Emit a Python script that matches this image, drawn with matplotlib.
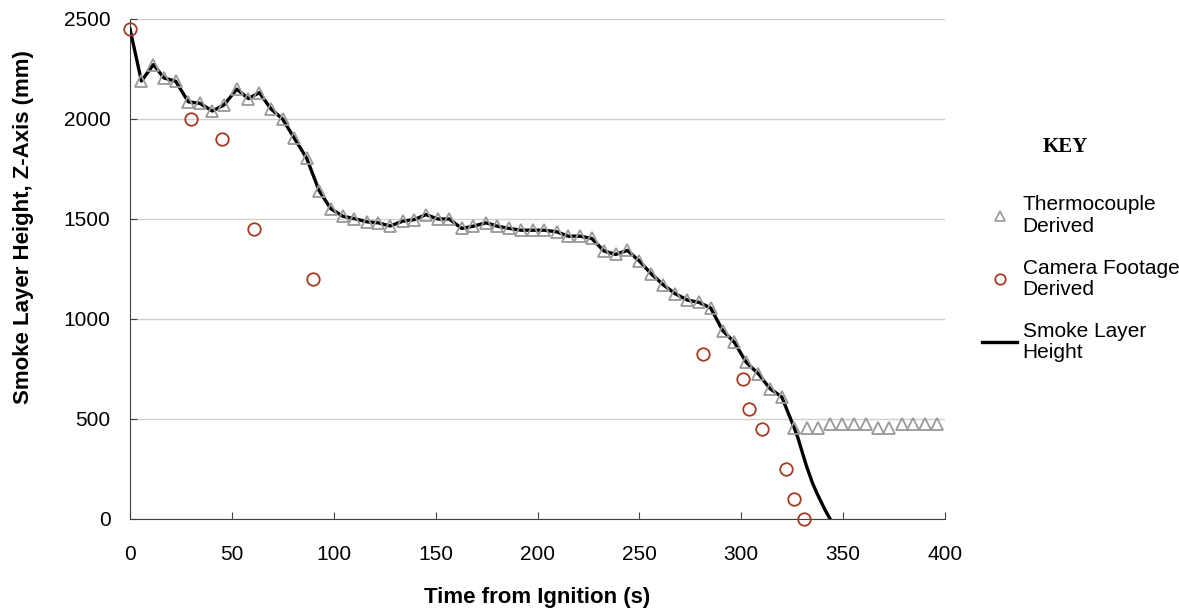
import matplotlib
matplotlib.use('Agg')
import matplotlib.pyplot as plt
from matplotlib.lines import Line2D

plt.rcParams['font.family'] = ['Liberation Sans', 'DejaVu Sans']

# thermocouple derived smoke layer height (s, mm)
tc_time = [5.6, 11.5, 16.7, 22.4, 28.6, 34.4, 40.4, 46.1, 52.4, 58.1,
           63.5, 69.2, 74.9, 80.7, 86.7, 92.8, 98.5, 104.4, 110.1, 116.2,
           121.9, 127.6, 133.8, 139.5, 145.3, 151.0, 156.7, 162.8, 168.5, 174.7,
           180.3, 186.2, 191.9, 197.6, 203.3, 209.4, 215.1, 220.9, 226.6, 232.6,
           238.4, 244.1, 250.0, 255.7, 261.7, 267.5, 273.5, 279.3, 285.0, 290.9,
           296.6, 302.4, 308.4, 314.1, 319.9, 326.1, 332.2, 337.9, 343.6, 349.6,
           355.4, 361.1, 367.0, 372.7, 378.8, 384.5, 390.2, 396.2]
tc_height = [2190, 2272, 2205, 2189, 2086, 2078, 2040, 2070, 2149, 2102,
             2132, 2050, 2000, 1903, 1804, 1642, 1552, 1514, 1502, 1486,
             1481, 1465, 1489, 1497, 1522, 1500, 1500, 1453, 1464, 1481,
             1464, 1453, 1444, 1444, 1444, 1436, 1414, 1414, 1403, 1340,
             1323, 1343, 1290, 1227, 1171, 1127, 1095, 1083, 1055, 942,
             884, 784, 726, 652, 610, 453, 453, 453, 474, 474,
             474, 474, 453, 453, 474, 474, 474, 474]

# camera footage derived
cam_time = [0, 30, 45, 61, 90, 281, 301, 304, 310, 322, 326, 331]
cam_height = [2450, 2000, 1900, 1450, 1200, 825, 700, 550, 450, 250, 100, 0]

# smoke layer height line: start point, thermocouple points up to 326 s, then the drop to 0
line_start = [(0, 2450)]
line_tail = [(328.0, 400), (329.6, 345), (332.1, 262), (335.0, 179),
             (337.0, 132), (338.7, 96), (341.0, 48), (343.6, 0)]

n_line = tc_time.index(326.1) + 1
line_time = [p[0] for p in line_start] + tc_time[:n_line] + [p[0] for p in line_tail]
line_height = [p[1] for p in line_start] + tc_height[:n_line] + [p[1] for p in line_tail]

fig = plt.figure(figsize=(11.79, 6.14), dpi=100)
ax = fig.add_axes([130 / 1179, 1 - 519 / 614, 815 / 1179, 500 / 614])

ax.plot(line_time, line_height, color='black', lw=2.4, zorder=3)
ax.plot(tc_time, tc_height, ls='none', marker='^', ms=8.5, mfc='none',
        mec='#999999', mew=1.3, zorder=4)
ax.plot(cam_time, cam_height, ls='none', marker='o', ms=9, mfc='none',
        mec='#a63a22', mew=1.3, zorder=5, clip_on=False)

ax.set_xlim(0, 400)
ax.set_ylim(0, 2500)
ax.set_xticks(range(0, 401, 50))
ax.set_yticks(range(0, 2501, 500))
ax.grid(axis='y', color='#d0d0d0', lw=1)
ax.set_axisbelow(True)
for s in ['top', 'right']:
    ax.spines[s].set_visible(False)
for s in ['left', 'bottom']:
    ax.spines[s].set_color('#404040')
ax.tick_params(direction='in', length=5, color='#404040', labelsize=15)
ax.tick_params(axis='x', pad=19)
ax.tick_params(axis='y', pad=14)

ax.set_xlabel('Time from Ignition (s)', fontsize=16, fontweight='bold', va='center')
ax.xaxis.set_label_coords(0.5, -0.156)
ax.set_ylabel('Smoke Layer Height, Z-Axis (mm)', fontsize=16, fontweight='bold',
              va='center', ha='center')
ax.yaxis.set_label_coords(-0.1305, 0.583)

# key
fig.text(1065 / 1179, 1 - 147 / 614, 'KEY', family='Liberation Serif', fontweight='bold',
         fontsize=15, ha='center', va='center')
handles = [
    Line2D([], [], ls='none', marker='^', ms=7, mfc='none', mec='#999999', mew=1.2),
    Line2D([], [], ls='none', marker='o', ms=7.5, mfc='none', mec='#a63a22', mew=1.3),
    Line2D([], [], color='black', lw=2.4),
]
labels = ['Thermocouple\nDerived', 'Camera Footage\nDerived', 'Smoke Layer\nHeight']
leg = fig.legend(handles, labels, loc='upper left', bbox_to_anchor=(972 / 1179, 1 - 185 / 614),
                 frameon=False, fontsize=15, borderpad=0, handlelength=1.68,
                 handletextpad=0.25, labelspacing=1.1, numpoints=1)
for t in leg.get_texts():
    t.set_linespacing(1.15)

fig.savefig('out.png', dpi=100)
